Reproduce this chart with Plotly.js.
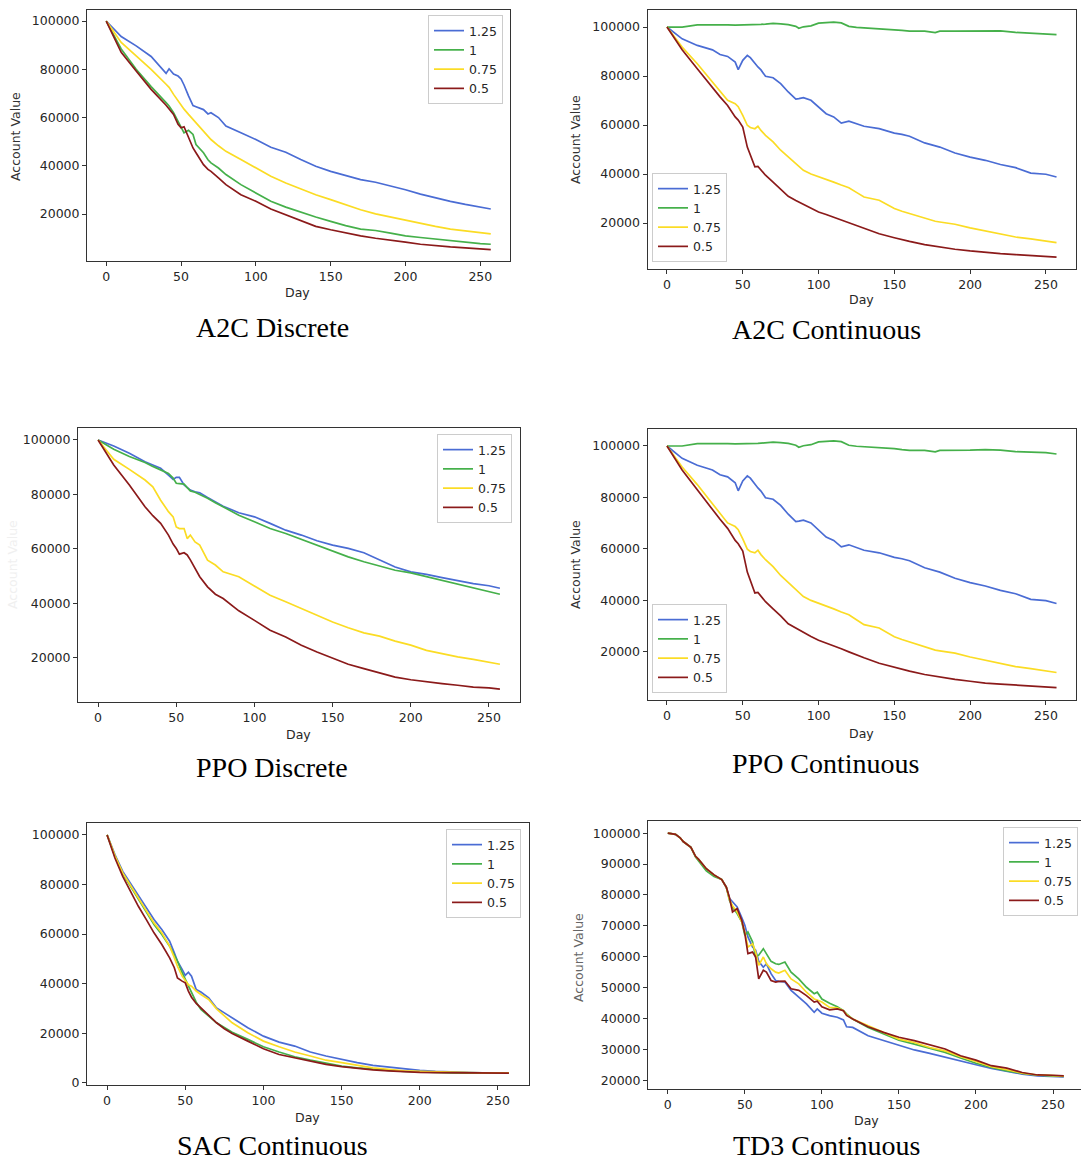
<!DOCTYPE html>
<html>
<head>
<meta charset="utf-8">
<script src="https://cdn.plot.ly/plotly-3.0.1.min.js"></script>
<style>html,body{margin:0;padding:0;background:#fff;}#chart{width:1081px;height:1164px;}</style>
</head>
<body>
<div id="chart"></div>
<script>
// ---------------- DATA ----------------
const seriesNames = ['1.25', '1', '0.75', '0.5'];
const panelTitles = ['A2C Discrete', 'A2C Continuous', 'PPO Discrete', 'PPO Continuous', 'SAC Continuous', 'TD3 Continuous'];

// A2C Discrete
const a2cDiscDays = [0,10,20,30,40,42,45,48,50,52,55,58,60,65,68,70,75,80,90,100,110,120,130,140,150,160,170,180,190,200,210,220,230,240,250,257];
const a2cDisc125 = [100000,93600,89700,85300,78300,80200,78000,77200,76000,73500,69000,65000,64500,63300,61500,62000,60000,56500,53700,50900,47700,45600,42600,39800,37700,35900,34300,33200,31800,30100,28300,26700,25300,24000,22900,22100];
const a2cDisc1   = [100000,88400,80000,72800,66200,64800,62000,58500,56500,53700,54700,53000,48800,45400,42500,41200,39100,36400,32200,28700,25300,22900,20700,18800,17000,15200,13800,13200,12100,11000,10300,9600,8900,8400,7800,7500];
const a2cDisc075 = [100000,91100,85600,80000,73800,72500,69600,67000,64800,63500,61300,59200,57800,54000,52000,50900,48300,46000,42600,39100,35700,32900,30400,28000,26000,23900,21800,20100,18800,17400,16000,14900,13800,13100,12400,11800];
const a2cDisc05  = [100000,87000,79300,71700,65100,63500,61300,57200,55800,56200,51600,47400,45400,40500,38500,37700,35000,32200,28000,25300,22100,19700,17000,14900,13500,12100,11000,10000,9300,8400,7500,6800,6400,6000,5600,5300];

// A2C Continuous
const a2cContDays = [0,10,20,30,35,40,45,47,50,53,55,58,60,62,65,70,75,80,85,87,90,95,100,105,110,115,120,125,130,140,150,155,160,170,177,180,190,200,210,220,230,240,250,257];
const a2cCont125 = [100000,95200,92500,90700,88800,88000,85700,82600,86400,88400,87500,85000,83700,82500,79900,79300,76900,73500,70600,70800,71200,70100,67300,64600,63300,60800,61600,60500,59500,58500,56700,56200,55400,52700,51500,51000,48600,46900,45600,43900,42600,40400,39900,38800];
const a2cCont1   = [100000,100000,100900,101000,101000,100900,100800,100800,101000,101000,101000,101000,101000,101100,101200,101500,101300,101000,100300,99500,100100,100500,101600,101900,102000,101700,100300,99900,99700,99500,99000,98600,98300,98300,97700,98300,98300,98400,98600,98400,97800,97500,97400,96900];
const a2cCont075 = [100000,91800,85000,77600,73500,70100,68700,67500,63900,59900,59000,58500,59500,57800,55800,53100,49700,46900,44000,43000,41500,40000,39000,37800,36700,35500,34400,32500,30600,29300,25900,24800,23800,21800,20700,20400,19500,18000,16700,15400,14300,13500,12700,12000];
const a2cCont05  = [100000,90700,83000,75200,71500,68000,63300,62000,59200,51000,47600,42900,43100,41500,39500,36700,34000,30900,29200,28600,27600,26000,24500,23500,22400,21200,20000,18800,17700,15600,14000,13200,12500,11200,10500,10200,9300,8600,7900,7500,7100,6800,6400,6100];

// PPO Discrete
const ppoDiscDays = [0,10,20,30,35,40,45,48,50,52,55,57,59,62,65,70,75,80,90,100,110,120,130,140,150,160,170,180,190,200,210,220,230,240,250,257];
const ppoDisc125 = [100000,97800,95100,92000,90800,89600,87100,85500,86300,86300,83500,82500,81600,81000,80600,78900,77300,75700,73300,71800,69400,66900,65100,63000,61400,60200,58600,55900,53400,51600,50700,49500,48300,47300,46500,45600];
const ppoDisc1   = [100000,96600,93900,91700,90300,89000,87700,86000,84100,84000,83800,82500,81300,80800,80000,78600,77000,75500,72400,70000,67500,65700,63500,61400,59300,57100,55300,53700,52200,51200,49800,48300,47100,45500,44300,43400];
const ppoDisc075 = [100000,92900,89200,85300,82800,77900,73700,71800,68100,67500,67500,63800,65100,62600,61400,55900,54100,51600,49800,46300,43000,40600,38100,35700,33200,31100,29200,28000,26200,24700,22800,21600,20400,19500,18500,17700];
const ppoDisc05  = [100000,90800,83500,75500,72200,69400,65100,61800,60200,58100,58600,57800,56000,53000,49800,46100,43400,41800,37300,33800,30200,27700,24700,22200,19800,17700,16100,14500,13000,12000,11200,10600,10000,9300,9000,8600];

// PPO Continuous (same run as shown in the A2C Continuous panel)
const ppoContDays = a2cContDays;
const ppoCont125 = a2cCont125;
const ppoCont1   = a2cCont1;
const ppoCont075 = a2cCont075;
const ppoCont05  = a2cCont05;

// SAC Continuous
const sacDays = [0,5,10,15,20,25,30,35,40,43,45,48,50,52,54,57,60,65,70,75,80,90,100,110,120,130,140,150,160,170,180,190,200,210,220,230,240,250,257];
const sac125 = [100000,92100,85300,80400,75500,70600,65900,61800,57100,52400,49100,45700,43300,44600,43000,37600,36600,34300,30200,28200,26200,22200,18800,16400,14800,12400,10800,9400,8100,7000,6300,5600,5000,4600,4300,4200,4000,4000,4000];
const sac1   = [100000,91400,84400,79300,74200,69200,63800,59800,55100,51500,49100,44400,41700,39000,36500,32500,29600,26900,24200,22300,20400,17500,14500,12400,10500,9100,7800,6700,6000,5400,5000,4600,4300,4100,4000,3900,3900,3900,3900];
const sac075 = [100000,91700,84700,79600,74600,69200,64500,60500,55100,50500,47000,43000,41000,39500,39000,37000,35600,33600,29800,27000,24200,20200,16800,14500,12400,10800,9100,8100,7000,6000,5400,4800,4600,4400,4200,4100,4000,4000,4000];
const sac05  = [100000,90700,83300,77300,71200,65900,60500,55800,50400,46400,42300,41000,40300,37000,34500,32000,30200,27200,24200,21800,19900,16800,13700,11400,10100,8700,7400,6500,5800,5200,4800,4400,4200,4100,4000,3900,3900,3900,3900];

// TD3 Continuous
const td3Days = [0,3,5,8,10,15,18,20,25,30,35,38,40,42,45,48,50,52,55,57,59,62,64,67,70,72,76,80,85,90,95,97,100,105,110,114,116,120,130,140,150,160,170,180,190,200,210,220,230,240,250,257];
const td3125 = [100000,99800,99600,98500,97300,95400,92500,91500,88500,86500,85000,82500,78900,77800,76100,72700,70200,66400,63100,62100,58500,56600,57700,54500,52300,52000,51800,49100,46900,44700,42000,43100,41700,40900,40400,39500,37300,37100,34400,32800,31200,29800,28700,27400,26100,25000,23800,22800,22000,21400,21200,21100];
const td31   = [100000,99800,99600,98500,97300,95400,92300,91000,87800,86000,85000,82500,78300,76000,74000,71300,66900,68000,64800,59900,60500,62600,61000,58500,57700,57500,58300,55000,52800,50100,48000,48500,46300,44900,43800,42500,41500,39800,37100,35000,33000,31700,30400,29000,27200,25500,24100,23000,22200,21600,21400,21200];
const td3075 = [100000,99800,99600,98500,97300,95400,92500,91500,88500,86500,85000,82500,78500,76500,74500,71300,68000,63100,64200,61500,57200,59900,57700,56100,55000,54700,55600,52800,51200,48500,46300,46000,45300,43600,43400,42500,41200,39800,37700,35500,33300,32200,30600,29500,27600,26100,24400,23400,22300,21700,21500,21300];
const td305  = [100000,99800,99600,98500,97300,95400,92500,91500,88500,86500,85000,82500,79200,74500,75600,71800,67500,61000,61500,59900,52800,55600,55000,52300,51800,52000,52100,49600,49100,47400,45300,45600,43800,42800,43100,42500,41000,39800,37300,35500,33900,32800,31400,30100,27900,26500,24700,23900,22500,21700,21600,21400];

// ---------------- STYLE / LAYOUT ----------------
const W = 1081, H = 1164;
const colors = ['#4a6cd4', '#45b04a', '#fbdc24', '#8b1a1a'];
const sansFont = 'DejaVu Sans, Verdana, sans-serif';
const serifFont = 'Liberation Serif, Times New Roman, serif';

const panels = [
  {days: a2cDiscDays, s: [a2cDisc125, a2cDisc1, a2cDisc075, a2cDisc05]},
  {days: a2cContDays, s: [a2cCont125, a2cCont1, a2cCont075, a2cCont05]},
  {days: ppoDiscDays, s: [ppoDisc125, ppoDisc1, ppoDisc075, ppoDisc05]},
  {days: ppoContDays, s: [ppoCont125, ppoCont1, ppoCont075, ppoCont05]},
  {days: sacDays, s: [sac125, sac1, sac075, sac05]},
  {days: td3Days, s: [td3125, td31, td3075, td305]}
];

// pixel boxes of each axes frame
const boxes = [
  {l: 87,   r: 510,    t: 9.6,   b: 261},
  {l: 647.5, r: 1076,  t: 10.4,  b: 268.8},
  {l: 78,   r: 520,    t: 427.5, b: 701.5},
  {l: 647.5, r: 1076,  t: 428.5, b: 700},
  {l: 87,   r: 529,    t: 823,   b: 1085},
  {l: 648,  r: 1083.6, t: 821,   b: 1089}
];
const ydticks = [20000, 20000, 20000, 20000, 20000, 10000];
const legendPos = [
  {x: 428, y: 15, anchor: 'top'},
  {x: 652, y: 262, anchor: 'bottom'},
  {x: 437, y: 434, anchor: 'top'},
  {x: 652, y: 693, anchor: 'bottom'},
  {x: 446, y: 829, anchor: 'top'},
  {x: 1003, y: 827, anchor: 'top'}
];
const dayLabelPos = [[297, 292], [861, 299], [298, 734], [861, 733], [307, 1117], [866, 1120]];
const yLabelPos = [[15, 137, '#333'], [575, 140, '#333'], [12, 565, '#f0f0f0'], [575, 565, '#333'], null, [578, 958, '#666']];
const captionPos = [[272, 327], [826, 329], [272, 767], [826, 763], [272, 1145], [826, 1145]];

const traces = [];
const layout = {
  width: W, height: H,
  margin: {l: 0, r: 0, t: 0, b: 0},
  paper_bgcolor: '#ffffff', plot_bgcolor: '#ffffff',
  showlegend: true,
  hovermode: false,
  annotations: []
};

panels.forEach((p, i) => {
  const k = i + 1;
  const suf = k > 1 ? String(k) : '';
  const legName = k > 1 ? 'legend' + k : 'legend';
  p.s.forEach((ys, j) => {
    traces.push({
      x: p.days, y: ys, type: 'scatter', mode: 'lines',
      name: seriesNames[j],
      line: {color: colors[j], width: 1.7},
      xaxis: 'x' + suf, yaxis: 'y' + suf,
      legend: legName
    });
  });
  // ranges with 5% margins (matplotlib style)
  const xmin = Math.min(...p.days), xmax = Math.max(...p.days);
  const xpad = 0.05 * (xmax - xmin);
  let x0 = xmin - xpad, x1 = xmax + xpad;
  const all = [].concat(...p.s);
  const ymin = Math.min(...all), ymax = Math.max(...all);
  const ypad = 0.05 * (ymax - ymin);
  const b = boxes[i];
  let r = b.r;
  if (r > W) { x1 = x0 + (x1 - x0) * (W - b.l) / (b.r - b.l); r = W; }
  const axCommon = {
    showline: true, mirror: true, linecolor: '#333', linewidth: 1,
    ticks: 'outside', ticklen: 4, tickwidth: 1, tickcolor: '#333',
    showgrid: false, zeroline: false,
    tickfont: {family: sansFont, size: 12.5, color: '#262626'}
  };
  layout['xaxis' + suf] = Object.assign({}, axCommon, {
    domain: [b.l / W, r / W], range: [x0, x1], anchor: 'y' + suf,
    tick0: 0, dtick: 50
  });
  layout['yaxis' + suf] = Object.assign({}, axCommon, {
    domain: [1 - b.b / H, 1 - b.t / H], range: [ymin - ypad, ymax + ypad], anchor: 'x' + suf,
    tick0: 0, dtick: ydticks[i], tickformat: 'd'
  });
  const lp = legendPos[i];
  layout[legName] = {
    x: lp.x / W, y: 1 - lp.y / H, xanchor: 'left', yanchor: lp.anchor,
    bgcolor: 'rgba(255,255,255,0.9)', bordercolor: '#cccccc', borderwidth: 1,
    font: {family: sansFont, size: 12.5, color: '#262626'},
    tracegroupgap: 0, itemwidth: 30
  };
  layout.annotations.push({
    text: 'Day', xref: 'paper', yref: 'paper', showarrow: false,
    x: dayLabelPos[i][0] / W, y: 1 - dayLabelPos[i][1] / H, xanchor: 'center', yanchor: 'middle',
    font: {family: sansFont, size: 12.5, color: '#262626'}
  });
  if (yLabelPos[i]) {
    layout.annotations.push({
      text: 'Account Value', xref: 'paper', yref: 'paper', showarrow: false, textangle: -90,
      x: yLabelPos[i][0] / W, y: 1 - yLabelPos[i][1] / H, xanchor: 'center', yanchor: 'middle',
      font: {family: sansFont, size: 12.5, color: yLabelPos[i][2]}
    });
  }
  layout.annotations.push({
    text: panelTitles[i], xref: 'paper', yref: 'paper', showarrow: false,
    x: captionPos[i][0] / W, y: 1 - captionPos[i][1] / H, xanchor: 'center', yanchor: 'middle',
    borderpad: 0,
    font: {family: serifFont, size: 28, color: '#000'}
  });
});

Plotly.newPlot('chart', traces, layout, {staticPlot: true, displayModeBar: false});
</script>
</body>
</html>
